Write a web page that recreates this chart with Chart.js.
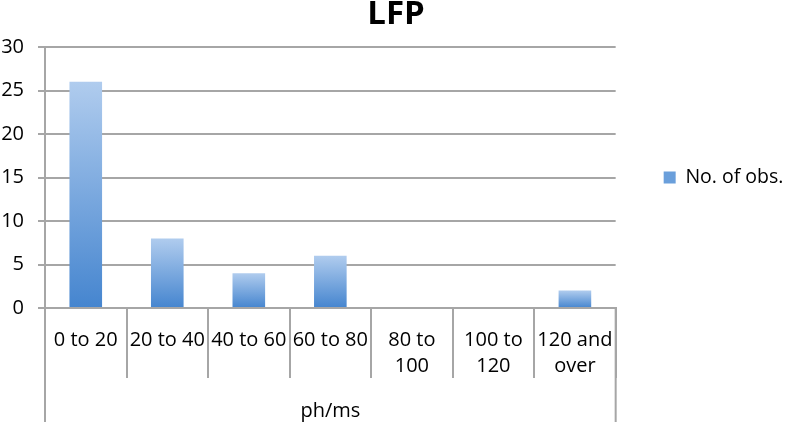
<!DOCTYPE html>
<html><head><meta charset="utf-8">
<script src="https://cdn.jsdelivr.net/npm/chart.js@4/dist/chart.umd.min.js"></script>
<style>html,body{margin:0;padding:0;background:#fff}#wrap{width:787px;height:430px;position:relative}</style>
</head><body><div id="wrap"><canvas id="c"></canvas></div>
<script>
const categories = [["0 to 20"], ["20 to 40"], ["40 to 60"], ["60 to 80"], ["80 to", "100"], ["100 to", "120"], ["120 and", "over"]];
const values = [26, 8, 4, 6, 0, 0, 2];
const seriesName = "No. of obs.";
const chartTitle = "LFP";
const xTitle = "ph/ms";
const yMin = 0, yMax = 30, yStep = 5;

const FONT = "'Open Sans', 'DejaVu Sans', sans-serif";
const GRID = "#a6a6a6";

function barGradient(c) {
  const chart = c.chart;
  if (!chart.chartArea || c.type !== 'data') return '#7eaee2';
  const ys = chart.scales.y;
  const top = ys.getPixelForValue(c.raw);
  const base = ys.getPixelForValue(0);
  if (Math.abs(base - top) < 1) return '#7eaee2';
  const g = chart.ctx.createLinearGradient(0, top, 0, base);
  g.addColorStop(0, '#b0ccee');
  g.addColorStop(1, '#4585cf');
  return g;
}

const tableEdges = {
  id: 'tableEdges',
  afterDraw(chart) {
    const ctx = chart.ctx, a = chart.chartArea;
    ctx.save();
    ctx.strokeStyle = GRID;
    ctx.lineWidth = 2;
    ctx.beginPath();
    [a.left, a.right].forEach(x => {
      ctx.moveTo(x, a.bottom);
      ctx.lineTo(x, chart.height - 8);
    });
    ctx.stroke();
    ctx.restore();
  }
};

new Chart(document.getElementById('c'), {
  type: 'bar',
  data: {
    labels: categories,
    datasets: [{
      label: seriesName,
      data: values,
      backgroundColor: barGradient,
      borderWidth: 0,
      barPercentage: 0.4,
      categoryPercentage: 1.0
    }]
  },
  plugins: [tableEdges],
  options: {
    responsive: true,
    maintainAspectRatio: false,
    animation: false,
    devicePixelRatio: 1,
    layout: { padding: { left: 2, right: -3, top: 0, bottom: 4 } },
    plugins: {
      title: {
        display: true,
        text: chartTitle,
        color: '#000',
        font: { family: FONT, size: 33, weight: 'bold', lineHeight: 1 },
        padding: { top: -2, bottom: 16 }
      },
      legend: {
        display: true,
        position: 'right',
        fullSize: false,
        labels: {
          color: '#000',
          font: { family: FONT, size: 19.5 },
          boxWidth: 12,
          boxHeight: 12,
          padding: 5,
          generateLabels(chart) {
            return [{
              text: seriesName,
              fillStyle: '#6a9fdb',
              strokeStyle: '#6a9fdb',
              lineWidth: 0,
              hidden: false,
              datasetIndex: 0
            }];
          }
        }
      },
      tooltip: { enabled: false }
    },
    scales: {
      x: {
        offset: true,
        grid: {
          offset: true,
          drawOnChartArea: false,
          drawTicks: true,
          tickLength: 70,
          color: GRID,
          lineWidth: 2
        },
        border: { display: true, color: GRID, width: 2 },
        ticks: {
          autoSkip: false,
          maxRotation: 0,
          minRotation: 0,
          padding: -51,
          color: '#000',
          font: { family: FONT, size: 20, lineHeight: 1.3 }
        },
        title: {
          display: true,
          text: xTitle,
          color: '#000',
          font: { family: FONT, size: 20 },
          padding: { top: 71, bottom: 3 }
        }
      },
      y: {
        min: yMin,
        max: yMax,
        afterFit(s) { s.width = 43; },
        grid: {
          color: GRID,
          lineWidth: 2,
          drawTicks: true,
          tickLength: 7
        },
        border: { display: true, color: GRID, width: 2 },
        ticks: {
          stepSize: yStep,
          padding: 14,
          color: '#000',
          font: { family: FONT, size: 20 }
        }
      },
      yR: {
        position: 'right',
        display: true,
        grid: { display: false },
        border: { display: false },
        ticks: { display: false },
        afterFit(s) { s.width = 43; }
      }
    }
  }
});
</script>
</body></html>
